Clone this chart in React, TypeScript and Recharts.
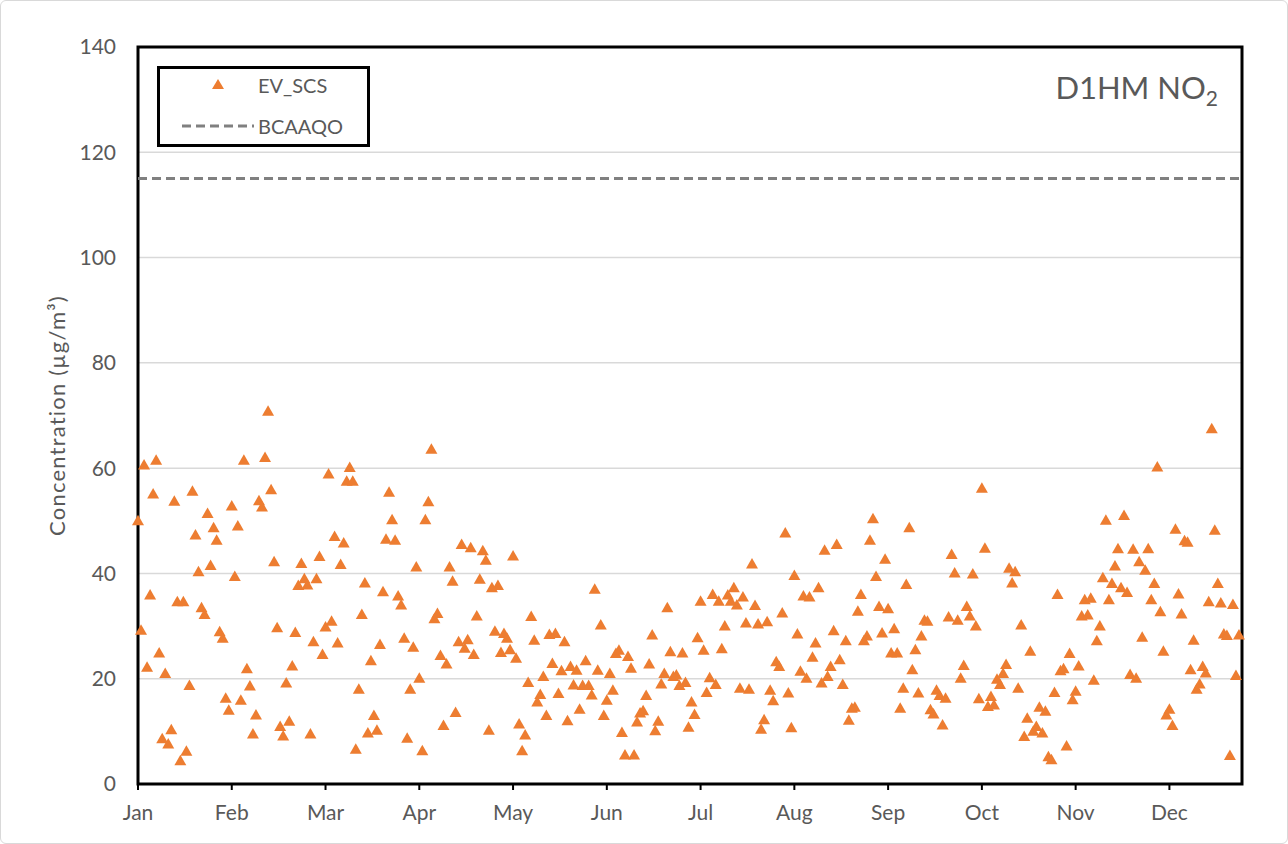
import {
  ReferenceArea,
  ReferenceLine,
  CartesianGrid,
  Scatter,
  ScatterChart,
  XAxis,
  YAxis,
} from "recharts";

const months = ["Jan", "Feb", "Mar", "Apr", "May", "Jun", "Jul", "Aug", "Sep", "Oct", "Nov", "Dec"];
// the axis puts a label every 31 days, starting on Jan 1
const monthTicks = [0, 31, 62, 93, 124, 155, 186, 217, 248, 279, 310, 341];
const yTicks = [0, 20, 40, 60, 80, 100, 120, 140];
const bcaaqo = 115;

// daily 1-hour max NO2, one value per day from Jan 1
const evScs = [
  50.0, 29.2, 60.6, 22.2, 35.9, 55.1, 61.5, 24.9, 8.6, 21.0,
  7.6, 10.3, 53.7, 34.6, 4.4, 34.6, 6.2, 18.7, 55.6, 47.3,
  40.3, 33.5, 32.2, 51.4, 41.5, 48.7, 46.3, 28.9, 27.7, 16.3,
  14.0, 52.8, 39.4, 49.0, 15.9, 61.5, 21.9, 18.6, 9.5, 13.1,
  53.8, 52.6, 62.0, 70.8, 55.9, 42.2, 29.7, 10.9, 9.1, 19.2,
  11.9, 22.4, 28.8, 37.7, 41.9, 39.0, 37.8, 9.5, 27.0, 39.0,
  43.2, 24.6, 29.8, 58.9,
  30.9, 47.0, 26.8, 41.7, 45.8, 57.5, 60.1, 57.5, 6.6, 18.0,
  32.2, 38.2, 9.7, 23.4, 13.0, 10.2, 26.5, 36.5, 46.5, 55.4,
  50.2, 46.3, 35.7, 34.0, 27.7, 8.7, 18.0, 26.0, 41.2, 20.1,
  6.3, 50.2, 53.6, 63.6, 31.4, 32.4, 24.4, 11.1, 22.8, 41.2,
  38.5, 13.6, 27.0, 45.5, 25.8, 27.4, 44.9, 24.6, 31.9, 38.9,
  44.3, 42.5, 10.2, 37.3, 29.0, 37.7, 25.0, 28.6, 27.7, 25.5,
  43.3, 23.9, 11.4, 6.3,
  9.3, 19.3, 31.8, 27.3, 15.6, 17.0, 20.4, 13.0, 28.4, 22.9,
  28.6, 17.2, 21.5, 27.0, 12.0, 22.3, 18.8, 21.6, 14.2, 18.7,
  23.4, 18.7, 16.9, 37.0, 21.6, 30.2, 13.0, 15.9, 21.0, 17.8,
  24.8, 25.4, 9.8, 5.5, 24.2, 22.0, 5.5, 11.8, 13.5, 13.9,
  16.8, 22.8, 28.3, 10.1, 11.9, 19.0, 21.0, 33.5, 25.1, 20.4,
  20.7, 18.7, 24.9, 19.3, 10.8, 15.6, 13.2, 27.8, 34.7, 25.4,
  17.4, 20.2,
  36.0, 18.9, 34.7, 25.7, 30.0, 35.9, 34.7, 37.3, 34.0, 18.2,
  35.5, 30.6, 18.0, 41.8, 33.9, 30.4, 10.4, 12.2, 30.8, 17.8,
  15.8, 23.2, 22.3, 32.5, 47.7, 17.3, 10.7, 39.6, 28.5, 21.4,
  35.7, 20.1, 35.5, 24.1, 26.8, 37.3, 19.2, 44.4, 20.4, 22.3,
  29.1, 45.5, 23.6, 18.9, 27.2, 12.1, 14.4, 14.6, 32.8, 36.0,
  27.2, 28.1, 46.3, 50.4, 39.4, 33.7, 28.7, 42.7, 33.3, 24.9,
  29.5, 24.9, 14.4,
  18.2, 37.9, 48.7, 21.7, 25.5, 17.3, 28.1, 31.1, 30.9, 14.1,
  13.3, 17.8, 16.8, 11.2, 16.3, 31.7, 43.6, 40.1, 31.1, 20.1,
  22.5, 33.7, 31.9, 39.9, 30.0, 16.2, 56.2, 44.8, 14.7, 16.6,
  15.0, 19.9, 18.9, 21.0, 22.7, 41.0, 38.2, 40.3, 18.2, 30.2,
  9.0, 12.5, 25.2, 10.0, 10.9, 14.6, 9.7, 13.8, 5.2, 4.6,
  17.4, 36.0, 21.5, 21.9, 7.2, 24.8, 16.0, 17.6, 22.4,
  31.9, 35.0, 32.1, 35.3, 19.7, 27.2, 30.0, 39.2, 50.1, 35.0,
  38.1, 41.4, 44.7, 37.3, 51.0, 36.4, 20.8, 44.6, 20.1, 42.2,
  27.9, 40.6, 44.7, 35.0, 38.1, 60.2, 32.7, 25.2, 13.1, 14.2,
  11.1, 48.4, 36.1, 32.3, 46.2, 45.9, 21.7, 27.3, 18.0, 19.0,
  22.3, 21.1, 34.6, 67.5, 48.2, 38.1, 34.4, 28.5, 28.2, 5.4,
  34.1, 20.6, 28.3,
];

const FONT = "Lato, 'Open Sans', sans-serif";
const TEXT = "#595959";
const ORANGE = "#ED7D31";

const data = evScs.map((value, day) => ({ day, value }));

function TriangleMark(props: { cx?: number; cy?: number }) {
  const { cx, cy } = props;
  if (cx == null || cy == null) return null;
  return (
    <polygon
      points={`${cx},${cy - 6} ${cx + 6},${cy + 4.5} ${cx - 6},${cy + 4.5}`}
      fill={ORANGE}
    />
  );
}

export default function App() {
  return (
    <div style={{ position: "absolute", left: 0, top: 0, width: 1288, height: 844, background: "#fff" }}>
      <ScatterChart
        width={1288}
        height={844}
        margin={{ top: 47, right: 46, bottom: 20, left: 78 }}
      >
        <CartesianGrid
          vertical={false}
          stroke="#d9d9d9"
          strokeWidth={1.5}
        />
        <XAxis
          type="number"
          dataKey="day"
          domain={[0, 365]}
          ticks={monthTicks}
          tickFormatter={(v: number) => months[monthTicks.indexOf(v)]}
          interval={0}
          height={40}
          axisLine={false}
          tickLine={{ stroke: "#000", strokeWidth: 2 }}
          tickSize={6}
          tickMargin={15}
          tick={{ fontSize: 21, fill: TEXT, fontFamily: FONT }}
        />
        <YAxis
          type="number"
          dataKey="value"
          domain={[0, 140]}
          ticks={yTicks}
          interval={0}
          width={60}
          axisLine={false}
          tickLine={false}
          tickSize={0}
          tickMargin={22}
          tick={{ fontSize: 21, fill: TEXT, fontFamily: FONT }}
          label={{
            value: "Concentration (µg/m³)",
            angle: -90,
            position: "left",
            offset: 21,
            style: { fontSize: 22, fill: TEXT, fontFamily: FONT, textAnchor: "middle", letterSpacing: 1.2 },
          }}
        />
        <ReferenceLine
          y={bcaaqo}
          stroke="#808080"
          strokeWidth={3}
          strokeDasharray="9 5"
        />
        <ReferenceArea
          x1={0}
          x2={365}
          y1={0}
          y2={140}
          fill="none"
          stroke="#000"
          strokeWidth={3}
        />
        <Scatter
          name="EV_SCS"
          data={data}
          shape={<TriangleMark />}
          isAnimationActive={false}
        />
      </ScatterChart>

      <div
        style={{
          position: "absolute",
          left: 157,
          top: 66,
          width: 213,
          height: 81,
          boxSizing: "border-box",
          border: "3px solid #000",
          background: "#fff",
          fontFamily: FONT,
          fontSize: 20,
          color: TEXT,
        }}
      >
        <div style={{ position: "absolute", left: 0, top: 4, height: 24, display: "flex", alignItems: "center" }}>
          <svg width={98} height={24}>
            <polygon points="58,6 64,16 52,16" fill={ORANGE} />
          </svg>
          <span>EV_SCS</span>
        </div>
        <div style={{ position: "absolute", left: 0, top: 45, height: 24, display: "flex", alignItems: "center" }}>
          <svg width={98} height={24}>
            <line x1={22} y1={12} x2={94} y2={12} stroke="#808080" strokeWidth={3} strokeDasharray="9 5" />
          </svg>
          <span>BCAAQO</span>
        </div>
      </div>

      <div
        style={{
          position: "absolute",
          right: 70,
          top: 68,
          fontFamily: FONT,
          fontSize: 31,
          color: TEXT,
        }}
      >
        D1HM NO<sub style={{ fontSize: 21, verticalAlign: "-7px" }}>2</sub>
      </div>

      <div
        style={{
          position: "absolute",
          left: 0,
          top: 0,
          width: 1288,
          height: 844,
          boxSizing: "border-box",
          border: "1px solid #d9d9d9",
          borderRadius: 6,
          pointerEvents: "none",
        }}
      />
    </div>
  );
}
